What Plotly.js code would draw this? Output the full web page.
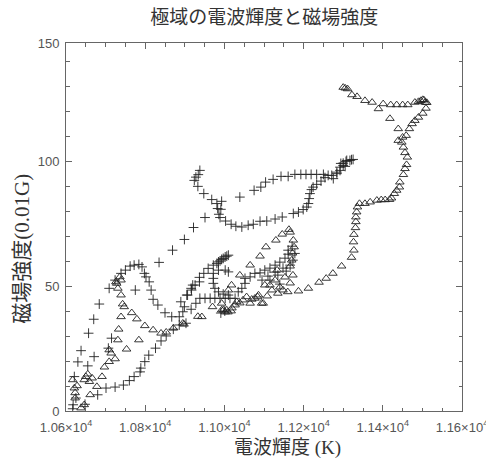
<!DOCTYPE html>
<html>
<head>
<meta charset="utf-8">
<script src="https://cdn.plot.ly/plotly-3.0.1.min.js"></script>
<style>html,body{margin:0;padding:0;background:#fff;}#chart{width:486px;height:467px;}</style>
</head>
<body>
<div id="chart"></div>
<script>
// 電波輝度 (K) and 磁場強度 (0.01G) — "+" series
var plusX = [10617,10618,10648,10625,10680,10621,10630,10638,10655,10671,10657,10670,10684,10707,10715,10709,10724,10739,10750,10762,10772,10784,10792,10798,10802,10775,10810,10815,10820,10832,10850,10867,10886,10895,10899,10890,10907,10916,10920,10928,10916,10903,10937,
  10701,10724,10745,10760,10772,10787,10789,10799,10809,10826,10840,10853,10871,10886,
  10905,10917,10926,10937,10948,10959,10972,10985,10993,11002,11010,
  10972,10972,10972,10976,10985,10997,11010,10985,11002,11010,10981,10989,10997,11006,
  10938,10951,10964,10976,10989,11002,11014,11027,10991,11001,
  11035,11044,11052,11052,11065,11077,11090,11102,11115,11128,11140,11153,11161,11161,11171,11178,11173,11166,11148,11128,11110,11095,11115,11135,11156,11140,
  10835,10869,10899,10922,10951,10933,10924,10928,10934,10938,10948,10968,10981,10993,10983,10991,10986,10989,11003,11017,11029,11044,11060,11073,11090,11107,11128,11146,11174,11187,11199,11208,11212,11214,11216,11220,11224,11233,11244,11254,11262,11271,11275,11284,11284,11292,11292,11300,11300,11309,11307,11317,11321,11325,11294,11305,
  11039,11075,11092,11104,11123,11143,11161,11178,11193,11206,11219,11233,11250];
var plusY = [0.9,2.5,2.7,5.2,6.5,13.8,19.7,24.2,18.1,21.8,31.2,36.8,42.9,25.2,29.2,49.2,52.5,55.2,56.5,58.1,58.5,58.8,57.8,55.2,53.8,48.5,51.8,48.5,44.8,42.5,39.4,37.8,37.8,39.8,41.8,43.8,46.5,49.2,50.5,43.2,40.8,35.2,51.8,
  9.2,9.6,10.4,12.2,13.8,15.7,17.2,19.8,22.4,25.2,28.1,30.1,32.8,34.5,
  46.5,48.5,50.5,53.6,55.2,57.2,58.5,59.8,60.8,61.8,62.5,
  55.2,53.2,51.2,49.2,47.8,46.9,46.5,56.5,56.5,55.8,59.2,60.2,61.2,62.1,
  45.2,45.2,45.2,45.2,45.2,45.2,45.2,45.2,39.3,40.1,
  47.8,49.2,51.2,53.2,53.8,55.2,55.4,56.5,57.3,58.5,59.7,61.3,62.9,64.5,66.1,63.2,60.5,58.5,57.3,55.7,54.1,52.5,52.5,54.5,56.1,50.9,
  59.6,64.5,68.8,73.6,77.6,90.1,92.5,93.8,94.8,96.5,87.2,84.8,83.2,84.1,81.2,80.9,78.9,77.6,76.2,74.9,74.1,73.8,74.5,74.9,76.1,76.2,77.0,77.8,79.2,79.8,80.8,81.8,83.2,85.2,87.2,88.8,89.8,90.9,92.2,93.6,94.5,94.5,93.2,95.8,95.2,97.8,96.5,99.4,98.5,100.5,100.1,100.5,100.8,100.9,99.3,98.1,
  85.8,88.5,89.8,91.8,92.9,94.1,94.1,94.9,94.9,94.9,94.9,94.9,94.9];

// "△" series
var triX = [10617,10621,10623,10623,10638,10646,10628,10650,10655,10646,10659,10666,10678,10661,10691,10697,10709,10724,10709,10714,10731,10733,10739,10747,10743,10739,10731,10726,10736,10739,10728,
  10766,10779,10799,10820,10840,10853,10871,10895,10898,10784,10753,
  10943,10933,10970,10993,11006,10997,11017,11031,11010,11018,11039,11065,11090,11105,11130,11146,11163,11166,11174,11176,11172,11170,11166,
  11056,11065,11069,11077,11086,11098,11094,11108,11084,
  11115,11128,11140,11153,11166,11173,11148,11120,11102,11133,
  10993,11002,11009,11019,11027,11039,11047,
  11135,11160,11187,11212,11239,11257,11274,11296,11321,11327,11326,11327,11331,11332,11332,11334,11336,11341,11355,11368,11385,11396,11406,11417,11422,11429,11435,11442,11443,11452,11456,11460,11462,11456,11452,11448,11439,11450,11459,11467,11474,11481,11490,11501,11509,11511,11507,11501,11496,11490,11504,11481,11463,11450,11435,11420,11401,11389,11373,11355,11335,11322,11311,11300,11305,11418,11439];
var triY = [12.5,9.2,7.3,5.2,1.2,2.5,10.1,13.8,14.8,12.5,11.8,13.2,9.8,6.5,13.8,17.6,19.8,20.9,24.5,23.2,28.5,32.8,37.8,41.8,42.9,46.5,49.2,51.8,53.8,52.5,51.2,
  39.4,36.9,34.2,32.5,31.2,31.6,33.2,35.2,34.8,28.5,24.8,
  37.8,37.9,41.8,43.2,40.5,40.5,40.1,43.8,48.5,50.5,54.5,58.5,62.1,65.8,68.5,70.9,72.8,71.7,68.5,65.8,63.3,60.5,58.1,
  45.8,43.2,44.8,45.2,46.5,43.2,43.2,46.1,45.8,
  50.5,52.5,49.7,53.7,51.3,54.5,48.5,48.5,50.5,56.5,
  40.5,39.7,39.7,41.3,42.5,43.3,44.5,
  47.2,47.8,48.1,49.2,51.6,53.2,55.2,58.1,61.6,64.5,67.8,70.8,73.5,75.9,77.8,79.8,81.8,83.2,83.2,83.8,84.5,84.7,84.7,84.8,85.4,87.2,88.5,89.8,91.8,94.8,97.2,98.8,101.8,103.6,105.8,107.8,108.5,109.8,110.5,113.2,115.2,116.5,117.8,119.4,121.4,123.7,123.8,124.9,124.5,124.1,124.7,123.8,122.8,122.8,122.8,122.8,123.2,121.2,123.8,124.5,126.1,126.8,129.2,129.8,129.5,117.3,113.2];

var xTickVals = [10600,10800,11000,11200,11400,11600];
var xTickText = ['1.06×10<sup>4</sup>','1.08×10<sup>4</sup>','1.10×10<sup>4</sup>','1.12×10<sup>4</sup>','1.14×10<sup>4</sup>','1.16×10<sup>4</sup>'];
var yTickVals = [0,50,100,147.6];
var yTickText = ['0','50','100','150'];

var cjk = '"Liberation Serif", "Noto Sans CJK JP", serif';
var tickFont = {family:'"Liberation Sans", Arial, sans-serif', size:13, color:'#555'};

var traces = [
  {x:plusX, y:plusY, type:'scatter', mode:'markers', name:'+',
   marker:{symbol:'cross-thin-open', size:7, color:'#222', line:{width:0.9, color:'#222'}}},
  {x:triX, y:triY, type:'scatter', mode:'markers', name:'△',
   marker:{symbol:'triangle-up-open', size:7.5, color:'#222', line:{width:0.9, color:'#222'}}}
];

var axisCommon = {
  showline:true, linecolor:'#666', linewidth:1, mirror:'allticks',
  ticks:'inside', ticklen:6, tickcolor:'#666', tickwidth:1,
  showgrid:false, zeroline:false, tickfont:tickFont, tickmode:'array',
  ticklabeloverflow:'allow'
};

var layout = {
  width:486, height:467,
  margin:{l:66, r:24, t:43, b:56, pad:0},
  paper_bgcolor:'#fff', plot_bgcolor:'#fff',
  showlegend:false,
  title:{text:'極域の電波輝度と磁場強度', font:{family:cjk, size:19, color:'#333'}, x:0.5435, xanchor:'center', y:0.962, yanchor:'middle'},
  xaxis:Object.assign({}, axisCommon, {
    range:[10600,11600], tickvals:xTickVals, ticktext:xTickText, ticklabelstandoff:4,
    minor:{tickmode:'linear', tick0:10600, dtick:50, ticks:'inside', ticklen:3.5, tickcolor:'#666'}
  }),
  yaxis:Object.assign({}, axisCommon, {
    range:[0,147.6], tickvals:yTickVals, ticktext:yTickText, ticklabelstandoff:3,
    minor:{tickmode:'linear', tick0:0, dtick:10, ticks:'inside', ticklen:3.5, tickcolor:'#666'}
  }),
  annotations:[
    {text:'電波輝度 (K)', xref:'paper', yref:'paper', x:0.559, y:-0.101, xanchor:'center', yanchor:'middle', showarrow:false, font:{family:cjk, size:19, color:'#333'}},
    {text:'磁場強度(0.01G)', xref:'paper', yref:'paper', x:-0.112, y:0.44, xanchor:'center', yanchor:'middle', textangle:-90, showarrow:false, font:{family:cjk, size:21, color:'#333'}}
  ]
};

Plotly.newPlot('chart', traces, layout, {displayModeBar:false, staticPlot:true});
</script>
</body>
</html>
